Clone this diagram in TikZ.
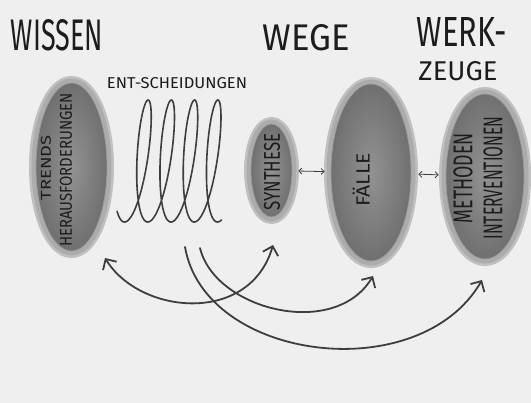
\documentclass[tikz,border=0pt]{standalone}
\usepackage{fontspec}
\setmainfont{Fira Sans}
\usetikzlibrary{shapes.geometric,arrows.meta}
\definecolor{bgc}{RGB}{239,239,239}
\definecolor{ink}{RGB}{28,28,28}
\definecolor{linec}{RGB}{62,62,62}
\definecolor{haloA}{RGB}{192,192,192}
\definecolor{haloB}{RGB}{172,172,172}
\definecolor{blobin}{RGB}{146,146,146}
\definecolor{blobout}{RGB}{112,112,112}
\definecolor{blobedge}{RGB}{155,155,155}
\tikzset{
  blob/.style={ellipse, inner sep=0pt,
    preaction={draw=haloA, line width=14pt},
    preaction={draw=haloB, line width=9pt},
    inner color=blobin, outer color=blobout,
    draw=blobedge, line width=0.7pt},
  lbl/.style={inner sep=0pt, text=ink},
  vlbl/.style={lbl, rotate=90},
  flow/.style={draw=linec, line width=1.8pt, line cap=round,
    arrows={Straight Barb[length=8pt,width=16pt]-Straight Barb[length=8pt,width=16pt]}},
  flowone/.style={draw=linec, line width=1.8pt, line cap=round,
    -{Straight Barb[length=8pt,width=16pt]}},
  swap/.style={draw=linec, line width=0.8pt,
    {Straight Barb[length=3pt,width=6pt]}-{Straight Barb[length=3pt,width=6pt]}},
  coil/.style={draw=linec, line width=1.6pt, line cap=round, line join=round}
}
\begin{document}
\begin{tikzpicture}[x=1pt,y=-1pt]
\useasboundingbox[fill=bgc] (0,0) rectangle (531,403);

% titles
\node[lbl] (wissen) at (57,35) {\resizebox{92pt}{31pt}{WISSEN}};
\node[lbl] (wege) at (306,38) {\resizebox{87pt}{26pt}{WEGE}};
\node[lbl] (werk) at (462,32) {\resizebox{90pt}{29pt}{WERK-}};
\node[lbl] (zeuge) at (458,71) {\resizebox{79pt}{19pt}{ZEUGE}};
\node[lbl] (ent) at (177,83) {\resizebox{140pt}{11pt}{ENT-SCHEIDUNGEN}};

% blobs
\node[blob, minimum width=71pt, minimum height=168pt] (trends) at (71.5,167) {};
\node[blob, minimum width=41pt, minimum height=93pt] (synth) at (271.5,170.5) {};
\node[blob, minimum width=80pt, minimum height=177pt] (faelle) at (371,172.5) {};
\node[blob, minimum width=78pt, minimum height=165pt] (meth) at (485,176.5) {};

% blob texts
\node[vlbl] (ttrends) at (46,168) {\resizebox{65pt}{10pt}{TRENDS}};
\node[vlbl] (theraus) at (66,170) {\resizebox{154pt}{12pt}{HERAUSFORDERUNGEN}};
\node[vlbl] (tsynth) at (272,172) {\resizebox{77pt}{16pt}{SYNTHESE}};
\node[vlbl] (tfaelle) at (361,180) {\resizebox{54pt}{17pt}{FÄLLE}};
\node[vlbl] (tmeth) at (463,178) {\resizebox{90pt}{19pt}{METHODEN}};
\node[vlbl] (tinter) at (493,178) {\resizebox{123pt}{19pt}{INTERVENTIONEN}};

% coil (decisions)
\draw[coil] plot[domain=-0.6:25.4, samples=500, variable=\t]
  ({130.5+3.7*\t+11*sin(\t r)-6*cos(\t r)}, {161+61*cos(\t r)});

% swaps
\draw[swap, shorten <=6pt, shorten >=6pt] (synth) -- (faelle);
\draw[swap, shorten <=7pt, shorten >=7pt] (faelle) -- (meth);

% arrows
\coordinate (a1s) at (105,258);
\coordinate (a1e) at (273,245);
\coordinate (a2s) at (185,247);
\coordinate (a2e) at (482,280);
\coordinate (a3s) at (200,248);
\coordinate (a3e) at (373,276);
\draw[flow] (a1s) .. controls (140,315) and (250,325) .. (a1e);
\draw[flowone] (a2s) .. controls (205,362) and (420,388) .. (a2e);
\draw[flowone] (a3s) .. controls (215,310) and (335,340) .. (a3e);
\end{tikzpicture}
\end{document}
